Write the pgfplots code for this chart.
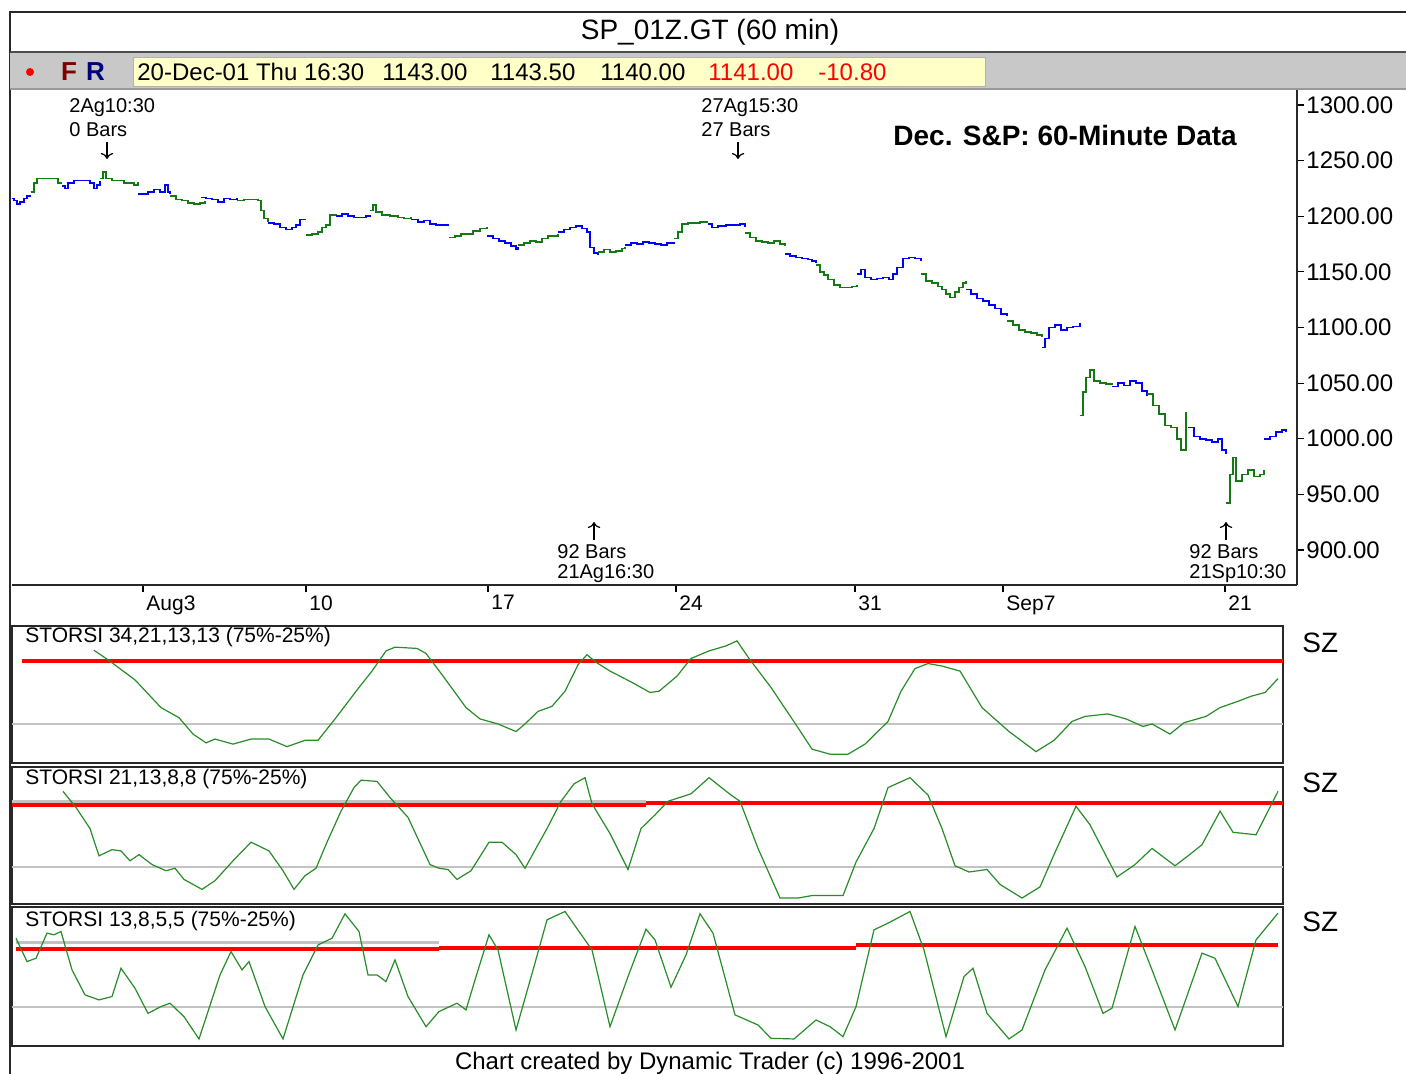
\documentclass[border=0pt]{standalone}
\usepackage{fontspec}
\setmainfont{Liberation Sans}
\usepackage{pgfplots}
\usetikzlibrary{arrows.meta}
\pgfplotsset{compat=1.18}
\definecolor{pgreen}{RGB}{20,120,20}
\definecolor{ogreen}{RGB}{40,140,40}
\definecolor{pblue}{RGB}{0,0,255}
\definecolor{hdrgray}{RGB}{200,200,200}
\definecolor{hdryellow}{RGB}{255,255,200}
\definecolor{framec}{RGB}{40,40,40}
\definecolor{dkred}{RGB}{128,0,0}
\definecolor{dkblue}{RGB}{0,0,128}
\definecolor{lgray}{RGB}{195,195,195}
\pgfplotsset{
  pb/.style={const plot, pblue, line width=0.8pt, forget plot},
  pg/.style={const plot, pgreen, line width=0.8pt, forget plot},
  osc/.style={anchor=south west, scale only axis, width=635.5pt,
    xmin=12, xmax=1283, xtick=\empty, ytick=\empty,
    axis line style={framec, line width=1.3pt}, axis background/.style={fill=white}},
  oline/.style={ogreen, line width=0.6pt},
}
\begin{document}
\begin{tikzpicture}[x=0.5pt,y=-0.5pt]
\path[use as bounding box, fill=white] (0,0) rectangle (1406,1074);
% header
\draw[framec, line width=1.3pt] (10,1074) -- (10,12) -- (1406,12);
\node[font=\fontsize{14}{16}\selectfont] at (710,32) {SP\_01Z.GT (60 min)};
\fill[hdrgray] (10,52) rectangle (1406,89);
\draw[black!70, line width=1.2pt] (10,52) -- (1406,52);
\draw[black!40, line width=0.6pt] (10,89) -- (1406,89);
\fill[hdryellow] (133,57) rectangle (985,86);
\draw[black!30, line width=0.4pt] (133,57) rectangle (985,86);
\fill[red] (30,72) circle (4);
\node[anchor=west, font=\bfseries\fontsize{13}{15}\selectfont, text=dkred] at (54,72) {F};
\node[anchor=west, font=\bfseries\fontsize{13}{15}\selectfont, text=dkblue] at (79,72) {R};
\begin{scope}[every node/.style={anchor=west, inner sep=0pt, font=\fontsize{12}{14}\selectfont}]
\node at (137,72) {20-Dec-01 Thu 16:30};
\node at (382,72) {1143.00};
\node at (490,72) {1143.50};
\node at (600,72) {1140.00};
\node[text=red] at (708,72) {1141.00};
\node[text=red] at (818,72) {-10.80};
\end{scope}

% main price axis
\begin{axis}[at={(6pt,-292.5pt)}, anchor=south west, scale only axis,
  width=642.5pt, height=247.5pt,
  xmin=12, xmax=1297, ymin=868.5, ymax=1313.5,
  axis x line*=bottom, axis y line*=right,
  axis line style={framec, line width=1.2pt},
  xtick={143,306,488,676,855,1003,1225},
  xticklabels={Aug3,10,17,24,31,Sep7,21},
  xticklabel style={anchor=north west, xshift=0pt, inner sep=1.5pt, font=\fontsize{10.5}{12}\selectfont},
  ytick={900,950,...,1300},
  yticklabel style={font=\fontsize{12}{14}\selectfont, inner sep=1pt},
  /pgf/number format/.cd, fixed, fixed zerofill, precision=2, 1000 sep={}, assume math mode=true,
  /pgfplots/.cd,
  tick align=outside, major tick length=3.5pt, tick style={black, line width=0.6pt}]
\addplot[pb] coordinates {(10,1216)(14,1214)(17,1211)(20,1213)(24,1216)(27,1218)(31,1218)};
\addplot[pg] coordinates {(31,1222)(34,1230)(37,1234)(45,1234)(52,1234)(58,1230)(62,1230)};
\addplot[pb] coordinates {(62,1227)(65,1225)(68,1230)(74,1232)(82,1232)(90,1230)(94,1225)(97,1228)(100,1232)};
\addplot[pg] coordinates {(100,1234)(103,1240)(106,1234)(112,1232)(118,1232)(124,1230)(130,1230)(134,1228)(138,1231)};
\addplot[pb] coordinates {(138,1220)(142,1220)(148,1222)(154,1224)(160,1222)(165,1228)(168,1222)(170,1220)};
\addplot[pg] coordinates {(170,1218)(176,1215)(182,1214)(188,1212)(194,1211)(200,1212)(205,1214)};
\addplot[pb] coordinates {(201,1217)(206,1216)(212,1215)(218,1213)(224,1216)(230,1215)(237,1216)};
\addplot[pg] coordinates {(237,1214)(244,1215)(252,1215)(258,1214)(261,1205)(264,1198)(268,1195)};
\addplot[pb] coordinates {(268,1194)(274,1193)(280,1190)(286,1188)(292,1190)(296,1192)(300,1197)(306,1197)};
\addplot[pg] coordinates {(306,1183)(312,1184)(318,1186)(322,1190)(326,1192)(330,1201)(336,1202)};
\addplot[pb] coordinates {(336,1200)(342,1202)(348,1200)(354,1199)(360,1199)(366,1200)(370,1201)};
\addplot[pg] coordinates {(370,1205)(373,1210)(376,1204)(382,1201)(390,1200)(398,1199)(404,1198)(411,1199)};
\addplot[pb] coordinates {(411,1197)(418,1195)(424,1196)(430,1193)(436,1192)(442,1192)(449,1192)};
\addplot[pg] coordinates {(449,1181)(455,1182)(461,1184)(467,1184)(473,1187)(480,1189)(487,1190)};
\addplot[pb] coordinates {(487,1182)(493,1180)(499,1178)(505,1176)(511,1173)(516,1170)(518,1172)};
\addplot[pg] coordinates {(518,1174)(524,1176)(530,1178)(536,1177)(542,1180)(548,1182)(554,1182)(558,1184)};
\addplot[pb] coordinates {(558,1186)(564,1188)(570,1190)(576,1191)(582,1189)(587,1186)(590,1172)(594,1167)(598,1165)};
\addplot[pg] coordinates {(598,1168)(604,1170)(610,1168)(616,1169)(622,1171)(625,1172)};
\addplot[pb] coordinates {(625,1174)(631,1176)(637,1175)(643,1177)(649,1176)(655,1175)(661,1174)(667,1176)(674,1177)};
\addplot[pg] coordinates {(674,1180)(678,1186)(682,1193)(688,1194)(694,1194)(700,1195)(708,1195)};
\addplot[pb] coordinates {(708,1193)(712,1190)(718,1191)(726,1192)(734,1192)(740,1193)(745,1190)};
\addplot[pg] coordinates {(745,1185)(750,1181)(756,1178)(762,1177)(768,1176)(774,1178)(780,1175)(785,1173)};
\addplot[pb] coordinates {(785,1166)(790,1164)(796,1163)(802,1162)(808,1161)(812,1160)(816,1158)};
\addplot[pg] coordinates {(816,1156)(820,1150)(824,1147)(828,1143)(834,1138)(840,1136)(846,1136)(852,1137)(857,1138)};
\addplot[pb] coordinates {(857,1148)(861,1152)(865,1145)(871,1143)(877,1144)(883,1145)(889,1143)(893,1148)(897,1154)(903,1162)(909,1163)(915,1162)(921,1160)};
\addplot[pg] coordinates {(921,1148)(926,1142)(932,1140)(938,1137)(942,1134)(946,1130)(950,1127)(955,1132)(959,1136)(963,1140)(966,1142)};
\addplot[pb] coordinates {(966,1134)(971,1130)(977,1126)(983,1124)(989,1120)(995,1117)(1001,1112)(1007,1110)};
\addplot[pg] coordinates {(1007,1106)(1013,1102)(1019,1098)(1025,1096)(1031,1095)(1037,1093)(1042,1091)};
\addplot[pb] coordinates {(1042,1082)(1045,1090)(1049,1100)(1055,1102)(1061,1098)(1067,1100)(1073,1101)(1080,1104)};
\addplot[pg] coordinates {(1080,1021)(1083,1042)(1086,1055)(1090,1062)(1094,1052)(1100,1050)(1106,1049)(1112,1048)};
\addplot[pb] coordinates {(1112,1047)(1118,1050)(1124,1048)(1130,1052)(1136,1050)(1142,1043)(1147,1038)};
\addplot[pg] coordinates {(1147,1040)(1153,1030)(1159,1022)(1165,1012)(1171,1010)(1177,1000)(1181,990)(1186,1024)};
\addplot[pb] coordinates {(1188,1010)(1194,1002)(1200,1000)(1206,999)(1212,997)(1218,1000)(1222,990)(1226,986)};
\addplot[pg] coordinates {(1226,942)(1230,968)(1233,983)(1236,962)(1242,968)(1248,972)(1254,966)(1260,968)(1264,972)};
\addplot[pb] coordinates {(1264,1000)(1270,1002)(1276,1006)(1282,1008)(1286,1006)};
\end{axis}

% annotations
\begin{scope}[every node/.style={anchor=west, inner sep=0pt, font=\fontsize{10}{12}\selectfont}]
\node at (69,108) {2Ag10:30};
\node at (69,130) {0 Bars};
\node at (701,108) {27Ag15:30};
\node at (701,130) {27 Bars};
\node at (557,552) {92 Bars};
\node at (557,574) {21Ag16:30};
\node at (1189,552) {92 Bars};
\node at (1189,574) {21Sp10:30};
\end{scope}
\draw[-{To[length=3pt]}, line width=0.6pt] (107,142) -- (107,159);
\draw[-{To[length=3pt]}, line width=0.6pt] (738,142) -- (738,159);
\draw[-{To[length=3pt]}, line width=0.6pt] (594,540) -- (594,522);
\draw[-{To[length=3pt]}, line width=0.6pt] (1226,540) -- (1226,522);
\node[anchor=west, inner sep=0pt, font=\bfseries\fontsize{14}{16}\selectfont] at (893,135) {Dec. S\&P: 60-Minute Data};

% panel 1
\begin{axis}[osc, at={(6pt,-381.5pt)}, height=68.5pt, ymin=-6, ymax=102.8]
\addplot[lgray, line width=1.4pt] coordinates {(12,25)(1283,25)};
\addplot[red, line width=2pt] coordinates {(22,75)(1283,75)};
\addplot[oline] coordinates {(94,83.5)(108,76)(135,60)(161,38)(179,30)(193,17)(206,10)(215,13)(233,9)(251,13)(269,13)(287,7)(305,12)(318,12)(336,30)(359,54)(372,67)(386,83)(395,86)(417,85)(426,81)(444,62)(466,38)(480,29)(498,25)(516,19)(525,25)(538,35)(552,39)(565,51)(578,72)(587,80)(596,74)(610,67)(632,58)(650,50)(659,51)(677,63)(691,77)(709,83)(726,87)(737,91)(749,77)(771,54)(798,22)(812,5)(830,1)(848,1)(865,9)(888,27)(901,51)(915,69)(928,73)(942,71)(960,67)(982,38)(1009,19)(1036,3)(1054,12)(1072,27)(1085,31)(1108,33)(1126,29)(1143,23)(1152,25)(1170,17)(1184,26)(1206,31)(1220,38)(1238,43)(1251,47)(1265,50)(1278,61)};
\end{axis}
% panel 2
\begin{axis}[osc, at={(6pt,-452pt)}, height=68.5pt, ymin=-4.8, ymax=105.6]
\addplot[lgray, line width=1.4pt] coordinates {(12,25)(1283,25)};
\addplot[lgray, line width=1.4pt] coordinates {(12,78)(646,78)};
\addplot[red, line width=2pt] coordinates {(12,75)(646,75)};
\addplot[red, line width=2pt] coordinates {(646,76.6)(1283,76.6)};
\addplot[oline] coordinates {(63,86)(76,73)(90,56)(99,34)(112,39)(121,38)(130,30)(139,35)(152,27)(166,22)(175,24)(184,15)(202,7)(215,14)(233,30)(251,45)(269,38)(283,22)(294,7)(305,18)(316,24)(327,45)(341,70)(354,89)(361,95)(377,94)(390,81)(408,65)(430,27)(439,24)(448,23)(457,15)(471,22)(489,45)(502,45)(516,35)(525,24)(538,43)(547,56)(561,78)(574,92)(585,97)(592,76)(610,52)(628,23)(641,56)(655,67)(668,78)(691,84)(709,97)(731,83)(740,78)(758,40)(780,0)(798,0)(812,2)(843,2)(856,29)(874,56)(888,89)(910,97)(928,83)(942,56)(955,26)(969,21)(987,23)(1000,11)(1022,0)(1040,9)(1054,35)(1076,74)(1090,59)(1117,17)(1135,27)(1152,40)(1175,26)(1188,34)(1202,43)(1220,70)(1233,53)(1256,51)(1278,86)};
\end{axis}
% panel 3
\begin{axis}[osc, at={(6pt,-523pt)}, height=69.5pt, ymin=-5.5, ymax=103]
\addplot[lgray, line width=1.4pt] coordinates {(12,25)(1283,25)};
\addplot[lgray, line width=1.4pt] coordinates {(16,75)(439,75)};
\addplot[red, line width=2pt] coordinates {(16,70.3)(439,70.3)};
\addplot[red, line width=2pt] coordinates {(439,71)(856,71)};
\addplot[red, line width=2pt] coordinates {(856,73.4)(1278,73.4)};
\addplot[oline] coordinates {(16,78.6)(27,60.4)(36,63)(47,82.6)(54,81.3)(61,83.9)(72,53.9)(85,34.4)(99,30.5)(112,33.1)(121,55.2)(135,39.6)(148,20)(161,25.3)(170,27.9)(184,17.4)(199,0)(220,50)(231,68.2)(242,53.9)(249,60.4)(265,25.3)(283,0)(303,50)(318,73.4)(332,78.6)(345,97.7)(359,83.9)(368,50)(377,50)(386,44.8)(395,61.7)(408,33.1)(426,9.6)(439,21.4)(457,27.9)(466,22.7)(475,46.1)(489,81.3)(498,69.5)(516,7)(534,56.5)(547,93)(565,99.5)(592,69.5)(610,9.6)(628,48.7)(646,85.7)(655,77.3)(671,40.4)(686,65.6)(700,97.7)(713,82.6)(735,18.8)(758,10.9)(771,0.5)(794,0)(816,14.8)(830,9.6)(843,1.8)(856,25.3)(874,85.2)(888,90.4)(910,99.5)(924,69.5)(946,1.8)(964,48.7)(973,55.2)(987,20)(1009,0)(1022,7)(1045,53.9)(1067,86.5)(1085,56.5)(1103,20)(1112,24)(1135,87.8)(1152,53.9)(1175,7)(1202,67)(1215,63)(1238,25.3)(1256,77.3)(1278,98.2)};
\end{axis}

% panel labels
\begin{scope}[every node/.style={anchor=west, inner sep=0pt, font=\fontsize{10.5}{12}\selectfont}]
\node at (25,637) {STORSI 34,21,13,13 (75\%-25\%)};
\node at (25,779) {STORSI 21,13,8,8 (75\%-25\%)};
\node at (25,921) {STORSI 13,8,5,5 (75\%-25\%)};
\end{scope}
\begin{scope}[every node/.style={anchor=west, inner sep=0pt, font=\fontsize{14}{16}\selectfont}]
\node at (1302,643) {SZ};
\node at (1302,783) {SZ};
\node at (1302,922) {SZ};
\end{scope}
\node[font=\fontsize{12}{14}\selectfont] at (710,1063) {Chart created by Dynamic Trader (c) 1996-2001};
\end{tikzpicture}
\end{document}
